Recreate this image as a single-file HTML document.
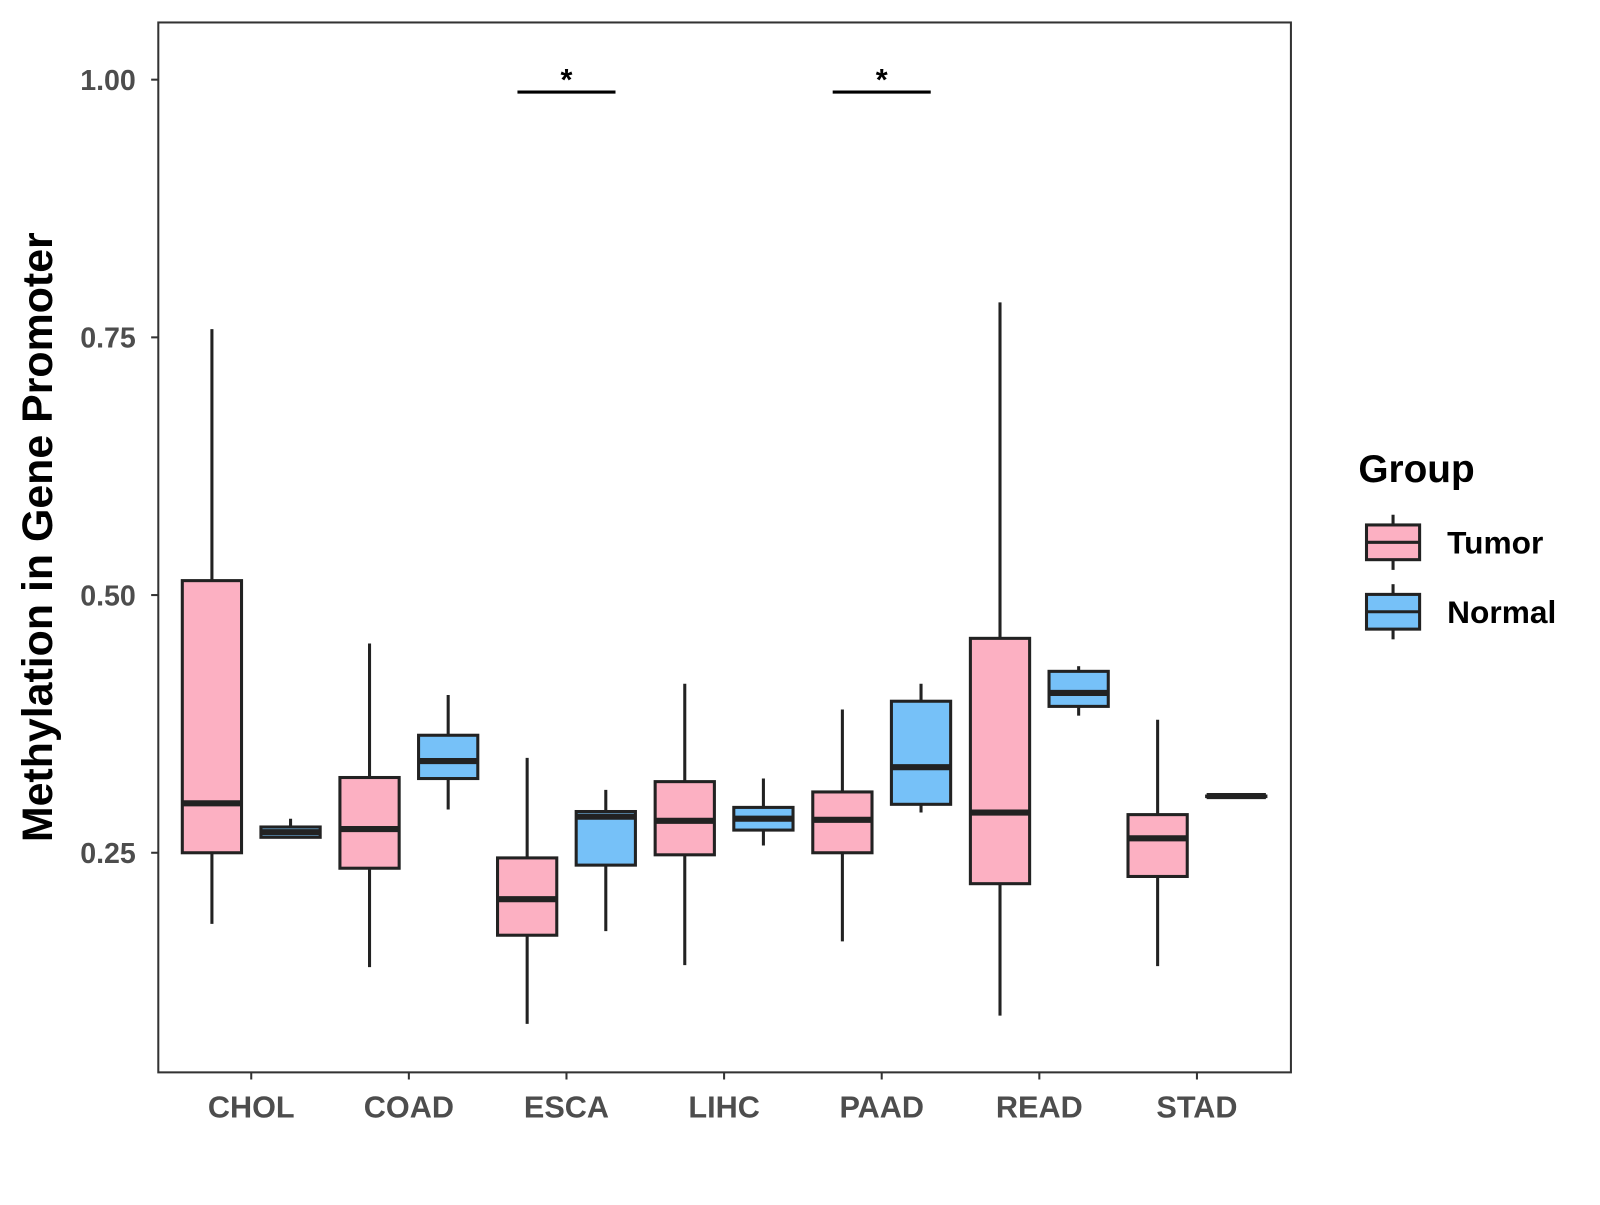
<!DOCTYPE html>
<html><head><meta charset="utf-8"><style>
body{margin:0;background:#fff;}
svg text{font-family:"Liberation Sans",Arial,sans-serif;font-weight:bold;}
</style></head><body>
<svg width="1600" height="1200" viewBox="0 0 1600 1200" xmlns="http://www.w3.org/2000/svg">
<g id="root" transform="scale(1.0213)">
<rect x="155" y="22" width="1109" height="1028" fill="#fff" stroke="#333" stroke-width="2"/>
<g id="marks"></g>
<text x="37" y="526" font-size="42" fill="#000" text-anchor="middle" dominant-baseline="central" transform="rotate(-90 37 526)">Methylation in Gene Promoter</text>
<g id="legend">
<text x="1330" y="472" font-size="38" fill="#000">Group</text>
</g>
</g>
</svg>
<script>
const categories=["CHOL","COAD","ESCA","LIHC","PAAD","READ","STAD"];
const tumorStats=[[0.181,0.25,0.298,0.514,0.758],[0.139,0.235,0.273,0.323,0.453],[0.084,0.170,0.205,0.245,0.342],[0.141,0.248,0.281,0.319,0.414],[0.164,0.25,0.282,0.309,0.389],[0.092,0.220,0.289,0.458,0.784],[0.140,0.227,0.264,0.287,0.379]];
const normalStats=[[0.265,0.265,0.270,0.275,0.283],[0.292,0.322,0.339,0.364,0.403],[0.174,0.238,0.285,0.290,0.311],[0.257,0.272,0.283,0.294,0.322],[0.289,0.297,0.333,0.397,0.414],[0.383,0.392,0.405,0.426,0.431],[0.305,0.305,0.305,0.305,0.305]];
const yTicks=[0.25,0.5,0.75,1.0];
const yTickLabels=["0.25","0.50","0.75","1.00"];
const sigCategories=["ESCA","PAAD"];
const sigLevel=0.988;
const groups=["Tumor","Normal"];
const NS="http://www.w3.org/2000/svg";
const g=document.getElementById('marks');
const legend=document.getElementById('legend');
const y=v=>78+(1-v)*1009.3;
const x=i=>246+i*154.33;
function mk(t,a,p){const e=document.createElementNS(NS,t);for(const k in a)e.setAttribute(k,a[k]);(p||g).appendChild(e);return e;}
yTicks.forEach((v,i)=>{
 const t=mk('line',{x1:148,x2:155,y1:y(v),y2:y(v),stroke:'#333','stroke-width':2});
 
 
 const l=mk('text',{x:133,y:y(v)+10,'font-size':28,fill:'#4d4d4d','text-anchor':'end'});
 l.textContent=yTickLabels[i];
 
 
});
categories.forEach((c,i)=>{
 const t=mk('line',{x1:x(i),x2:x(i),y1:1050,y2:1057,stroke:'#333','stroke-width':2});
 
 
 const l=mk('text',{x:x(i),y:1094,'font-size':30,fill:'#4d4d4d','text-anchor':'middle'});
 l.textContent=c;
 
 
});
function box(cx,s,fill,name,w,par){
 const bg=mk('g',{},par);
 
 
 mk('line',{x1:cx,x2:cx,y1:y(s[0]),y2:y(s[4]),stroke:'#222','stroke-width':3},bg);
 mk('rect',{x:cx-w/2,y:y(s[3]),width:w,height:Math.max(y(s[1])-y(s[3]),0.5),fill:fill,stroke:'#222','stroke-width':3},bg);
 mk('line',{x1:cx-w/2,x2:cx+w/2,y1:y(s[2]),y2:y(s[2]),stroke:'#222','stroke-width':6},bg);
}
categories.forEach((c,i)=>{
 box(x(i)-38.5,tumorStats[i],'#fcb0c2','box-tumor-'+c.toLowerCase(),58);
 box(x(i)+38.5,normalStats[i],'#76c1f8','box-normal-'+c.toLowerCase(),58);
});
sigCategories.forEach(c=>{
 const i=categories.indexOf(c);
 const l=mk('line',{x1:x(i)-48,x2:x(i)+48,y1:y(sigLevel),y2:y(sigLevel),stroke:'#000','stroke-width':3});
 
 
 const s=mk('text',{x:x(i),y:y(sigLevel)-2,'font-size':30,fill:'#000','text-anchor':'middle'});
 s.textContent='*';
 
 
});
const fills=['#fcb0c2','#76c1f8'];
groups.forEach((gname,k)=>{
 const cy=531+k*68;
 const lg=mk('g',{},legend);
 
 
 mk('line',{x1:1364,x2:1364,y1:cy-27,y2:cy+27,stroke:'#222','stroke-width':3},lg);
 mk('rect',{x:1338,y:cy-17,width:52,height:34,fill:fills[k],stroke:'#222','stroke-width':3},lg);
 mk('line',{x1:1338,x2:1390,y1:cy,y2:cy,stroke:'#222','stroke-width':3},lg);
 const t=mk('text',{x:1417,y:cy+11,'font-size':31,fill:'#000'},lg);
 t.textContent=gname;
});
</script>
</body></html>
